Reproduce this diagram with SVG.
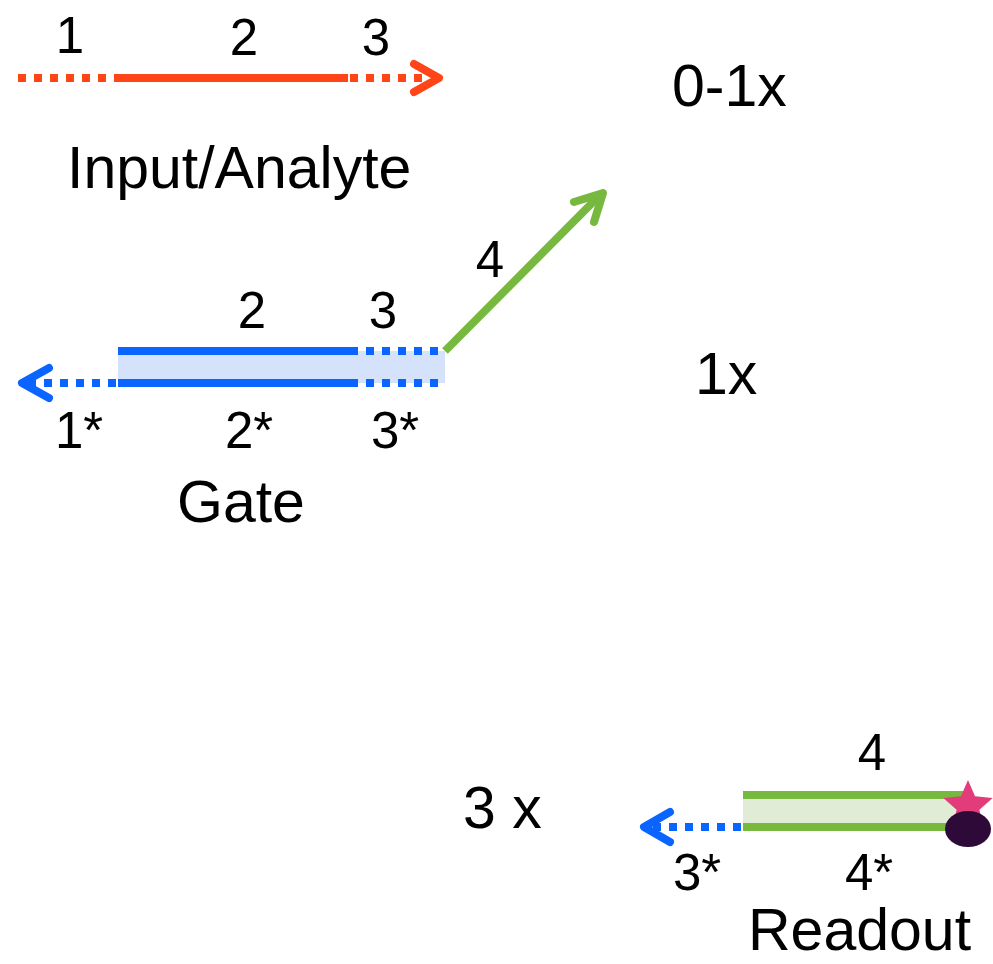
<svg xmlns="http://www.w3.org/2000/svg" width="993" height="964" viewBox="0 0 993 964">
<style>
text{font-family:"Liberation Sans",Arial,sans-serif;fill:#000}
.big{font-size:59px}
.sm{font-size:51px;text-anchor:middle}
.ln{fill:none;stroke-width:8}
.dot{stroke-dasharray:8 8}
.head{fill:none;stroke-width:8;stroke-linecap:round;stroke-linejoin:round}
.red{stroke:#ff4518}
.blue{stroke:#0a64ff}
.green{stroke:#77b83f}
</style>
<rect width="993" height="964" fill="#fff"/>
<g id="input">
<line class="ln dot red" x1="18" y1="78" x2="117" y2="78"/>
<line class="ln red" x1="117" y1="78" x2="348" y2="78"/>
<line class="ln dot red" x1="350" y1="78" x2="430" y2="78"/>
<polyline class="head red" points="414,64 439,78 414,92"/>
<text class="sm" x="70" y="53">1</text>
<text class="sm" x="244" y="55">2</text>
<text class="sm" x="376" y="55">3</text>
<text class="big" x="67" y="188">Input/Analyte</text>
</g>
<g id="gate">
<rect x="118" y="351" width="327" height="32" fill="#d4e2fb"/>
<line class="ln blue" x1="118" y1="351" x2="350" y2="351"/>
<line class="ln blue" x1="118" y1="383" x2="350" y2="383"/>
<line class="ln dot blue" x1="350" y1="351" x2="446" y2="351"/>
<line class="ln dot blue" x1="350" y1="383" x2="446" y2="383"/>
<line class="ln dot blue" x1="116" y1="383" x2="30" y2="383"/>
<polyline class="head blue" points="49,368 22,383 49,398"/>
<text class="sm" x="252" y="328">2</text>
<text class="sm" x="383" y="328">3</text>
<text class="sm" x="79" y="448">1*</text>
<text class="sm" x="249" y="448">2*</text>
<text class="sm" x="395" y="448">3*</text>
<text class="big" x="177" y="522">Gate</text>
</g>
<g id="connectors">
<line class="ln green" x1="445" y1="351" x2="602" y2="193"/>
<polyline class="head green" points="574,202 603,193 594,222"/>
<text class="sm" x="490" y="277">4</text>
</g>
<g id="labels">
<text class="big" x="672" y="106">0-1x</text>
<text class="big" x="695" y="394">1x</text>
<text class="big" x="463" y="828">3 x</text>
</g>
<g id="readout">
<rect x="743" y="795" width="227" height="32" fill="#e0ecd5"/>
<line class="ln green" x1="743" y1="795" x2="970" y2="795"/>
<line class="ln green" x1="743" y1="827" x2="970" y2="827"/>
<line class="ln dot blue" x1="741" y1="827" x2="652" y2="827"/>
<polyline class="head blue" points="670,812 644,827 670,842"/>
<polygon fill="#e23d7a" points="968,780 975.05,796.29 992.73,797.97 979.41,809.71 983.28,827.03 968,818 952.72,827.03 956.59,809.71 943.27,797.97 960.95,796.29"/>
<ellipse cx="968" cy="829" rx="23" ry="18" fill="#2e0a38"/>
<text class="sm" x="872" y="770">4</text>
<text class="sm" x="697" y="890">3*</text>
<text class="sm" x="869" y="890">4*</text>
<text class="big" x="748" y="950">Readout</text>
</g>
</svg>
